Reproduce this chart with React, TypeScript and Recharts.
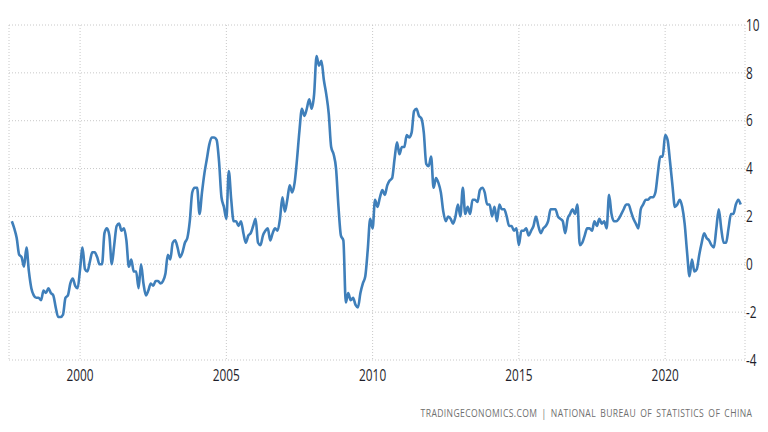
import { CartesianGrid, Line, LineChart, XAxis, YAxis } from "recharts";

// China inflation rate, % YoY, monthly from Sep 1997 to Aug 2022
const startYear = 1997;
const startMonth = 9;
const cpi = [
  1.8, 1.5, 1.1, 0.4,
  0.3, -0.1, 0.7, -0.3, -1.0, -1.3, -1.4, -1.4, -1.5, -1.1, -1.2, -1.0,
  -1.2, -1.3, -1.8, -2.2, -2.2, -2.1, -1.4, -1.3, -0.8, -0.6, -0.9, -1.0,
  -0.2, 0.7, -0.2, -0.3, 0.1, 0.5, 0.5, 0.3, 0.0, 0.0, 1.3, 1.5,
  1.2, 0.0, 0.8, 1.6, 1.7, 1.4, 1.5, 1.0, -0.1, 0.2, -0.3, -0.3,
  -1.0, 0.0, -0.8, -1.3, -1.1, -0.8, -0.9, -0.7, -0.7, -0.8, -0.7, -0.4,
  0.4, 0.2, 0.9, 1.0, 0.7, 0.3, 0.5, 0.9, 1.1, 1.8, 3.0, 3.2,
  3.2, 2.1, 3.0, 3.8, 4.4, 5.0, 5.3, 5.3, 5.2, 4.3, 2.8, 2.4,
  1.9, 3.9, 2.7, 1.8, 1.8, 1.6, 1.8, 1.3, 0.9, 1.2, 1.3, 1.6,
  1.9, 0.9, 0.8, 1.2, 1.4, 1.5, 1.0, 1.3, 1.5, 1.4, 1.9, 2.8,
  2.2, 2.7, 3.3, 3.0, 3.4, 4.4, 5.6, 6.5, 6.2, 6.5, 6.9, 6.5,
  7.1, 8.7, 8.3, 8.5, 7.7, 7.1, 6.3, 4.9, 4.6, 4.0, 2.4, 1.2,
  1.0, -1.6, -1.2, -1.5, -1.4, -1.7, -1.8, -1.2, -0.8, -0.5, 0.6, 1.9,
  1.5, 2.7, 2.4, 2.8, 3.1, 2.9, 3.3, 3.5, 3.6, 4.4, 5.1, 4.6,
  4.9, 4.9, 5.4, 5.3, 5.5, 6.4, 6.5, 6.2, 6.1, 5.5, 4.2, 4.1,
  4.5, 3.2, 3.6, 3.4, 3.0, 2.2, 1.8, 2.0, 1.9, 1.7, 2.0, 2.5,
  2.0, 3.2, 2.1, 2.4, 2.1, 2.7, 2.7, 2.6, 3.1, 3.2, 3.0, 2.5,
  2.5, 2.0, 2.4, 1.8, 2.5, 2.3, 2.3, 2.0, 1.6, 1.6, 1.4, 1.5,
  0.8, 1.4, 1.4, 1.5, 1.2, 1.4, 1.6, 2.0, 1.6, 1.3, 1.5, 1.6,
  1.8, 2.3, 2.3, 2.3, 2.0, 1.9, 1.8, 1.3, 1.9, 2.1, 2.3, 2.1,
  2.5, 0.8, 0.9, 1.2, 1.5, 1.5, 1.4, 1.8, 1.6, 1.9, 1.7, 1.8,
  1.5, 2.9, 2.1, 1.8, 1.8, 1.9, 2.1, 2.3, 2.5, 2.5, 2.2, 1.9,
  1.7, 1.5, 2.3, 2.5, 2.7, 2.7, 2.8, 2.8, 3.0, 3.8, 4.5, 4.5,
  5.4, 5.2, 4.3, 3.3, 2.4, 2.5, 2.7, 2.4, 1.7, 0.5, -0.5, 0.2,
  -0.3, -0.2, 0.4, 0.9, 1.3, 1.1, 1.0, 0.8, 0.7, 1.5, 2.3, 1.5,
  0.9, 0.9, 1.5, 2.1, 2.1, 2.5, 2.7, 2.5,
];
const yearTicks = [2000, 2005, 2010, 2015, 2020];
const valueTicks = [-4, -2, 0, 2, 4, 6, 8, 10];

const data = cpi.map((v, i) => ({ t: startYear + (startMonth - 1 + i) / 12, v }));

const font = "'Open Sans', 'DejaVu Sans', sans-serif";

// labels in the reference are narrow, so squeeze them horizontally
function XTick({ x, y, payload }: any) {
  return (
    <text transform={`translate(${x},${y}) scale(0.74,1)`} textAnchor="middle" dy="0.95em" fill="#1e1e2a" fontSize={16} fontFamily={font}>
      {Math.round(payload.value)}
    </text>
  );
}

function YTick({ x, y, payload }: any) {
  return (
    <text transform={`translate(${x},${y}) scale(0.74,1)`} textAnchor="start" dy="0.36em" fill="#1e1e2a" fontSize={16} fontFamily={font}>
      {payload.value}
    </text>
  );
}

export default function App() {
  return (
    <div style={{ position: "absolute", left: 0, top: 0, width: 768, height: 432, background: "#fff" }}>
      <LineChart width={768} height={432} data={data} margin={{ top: 25, right: 0, bottom: 0, left: 9 }}>
        <CartesianGrid stroke="#c8c8c8" strokeDasharray="1 2" />
        <XAxis
          dataKey="t"
          type="number"
          domain={[1997.57, 2022.73]}
          ticks={yearTicks}
          axisLine={false}
          tickLine={false}
          tickSize={0}
          tickMargin={6}
          height={72}
          tick={<XTick />}
        />
        <YAxis
          orientation="right"
          domain={[-4, 10]}
          ticks={valueTicks}
          axisLine={false}
          tickLine={false}
          tickSize={0}
          tickMargin={1}
          width={23}
          tick={<YTick />}
        />
        <Line type="monotone" dataKey="v" stroke="#3f7fba" strokeWidth={2.6} dot={false} isAnimationActive={false} />
      </LineChart>
      <div
        style={{
          position: "absolute",
          right: 16,
          top: 405,
          fontFamily: font,
          fontSize: 11,
          color: "#6f6f6f",
          letterSpacing: 0.5,
          wordSpacing: 2,
          whiteSpace: "nowrap",
          transform: "scaleX(0.78)",
          transformOrigin: "right center",
        }}
      >
        TRADINGECONOMICS.COM | NATIONAL BUREAU OF STATISTICS OF CHINA
      </div>
    </div>
  );
}
